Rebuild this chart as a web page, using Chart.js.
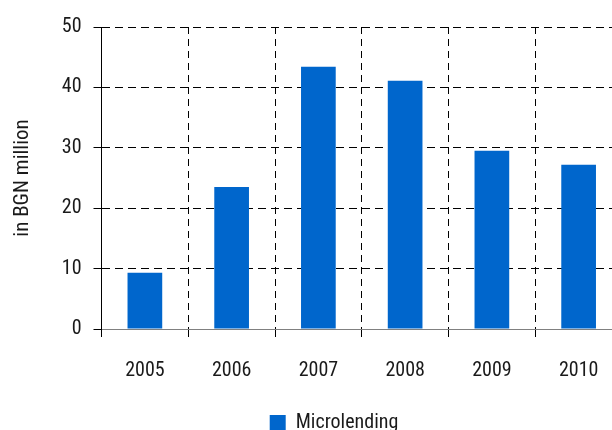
<!DOCTYPE html>
<html>
<head>
<meta charset="utf-8">
<script src="https://cdn.jsdelivr.net/npm/chart.js@4.4.1/dist/chart.umd.min.js"></script>
<style>
  html, body { margin: 0; padding: 0; background: #fff; overflow: hidden; }
  #wrap { position: relative; width: 622px; height: 443px; }
</style>
</head>
<body>
<div id="wrap"><canvas id="chart"></canvas></div>
<script>
// Microlending volume by year, BGN million
const years = ['2005', '2006', '2007', '2008', '2009', '2010'];
const microlending = [9.3, 23.5, 43.4, 41.1, 29.5, 27.2];
const yTicks = [0, 10, 20, 30, 40, 50];

const FONT = '"Roboto Condensed", "Liberation Sans Narrow", "Arial Narrow", sans-serif';
const TEXT = '#1a1a1a';
const BLUE = '#0066CC';

// keeps the legend where the report places it, left of the plot centre
const legendShift = {
  id: 'legendShift',
  beforeDraw(chart) {
    const lg = chart.legend;
    if (!lg) return;
    const target = 334;
    const d = target - (lg.left + lg.right) / 2;
    lg.left += d;
    lg.right += d;
  }
};

new Chart(document.getElementById('chart'), {
  type: 'bar',
  data: {
    labels: years,
    datasets: [{
      label: 'Microlending',
      data: microlending,
      backgroundColor: BLUE,
      borderWidth: 0,
      barPercentage: 0.4,
      categoryPercentage: 1.0
    }]
  },
  options: {
    responsive: true,
    maintainAspectRatio: false,
    animation: false,
    devicePixelRatio: 1,
    layout: { padding: { top: 27, left: 0, right: 0, bottom: 0 } },
    plugins: {
      tooltip: { enabled: false },
      legend: {
        position: 'bottom',
        labels: {
          boxWidth: 16,
          boxHeight: 16,
          padding: 10,
          color: TEXT,
          font: { family: FONT, size: 20 }
        }
      }
    },
    scales: {
      x: {
        grid: {
          offset: true,
          color: '#000',
          lineWidth: 1,
          tickLength: 8,
          tickColor: '#000',
          tickBorderDash: []
        },
        border: { display: true, color: '#808080', width: 1, dash: [7, 5] },
        ticks: {
          color: TEXT,
          padding: 22,
          font: { family: FONT, size: 20 }
        },
        afterFit(scale) { scale.height = 74; }
      },
      y: {
        min: 0,
        max: 50,
        afterBuildTicks(scale) { scale.ticks = yTicks.map(v => ({ value: v })); },
        grid: {
          color: '#000',
          lineWidth: 1,
          tickLength: 8,
          tickColor: '#000',
          tickBorderDash: []
        },
        border: { display: true, color: '#000', width: 1, dash: [8, 5] },
        ticks: {
          color: TEXT,
          padding: 12,
          font: { family: FONT, size: 20 }
        },
        title: {
          display: true,
          text: 'in BGN million',
          color: TEXT,
          padding: { top: 10, bottom: 0 },
          font: { family: FONT, size: 21 }
        },
        afterFit(scale) { scale.width = 101.5; }
      }
    }
  },
  plugins: [legendShift]
});
</script>
</body>
</html>
